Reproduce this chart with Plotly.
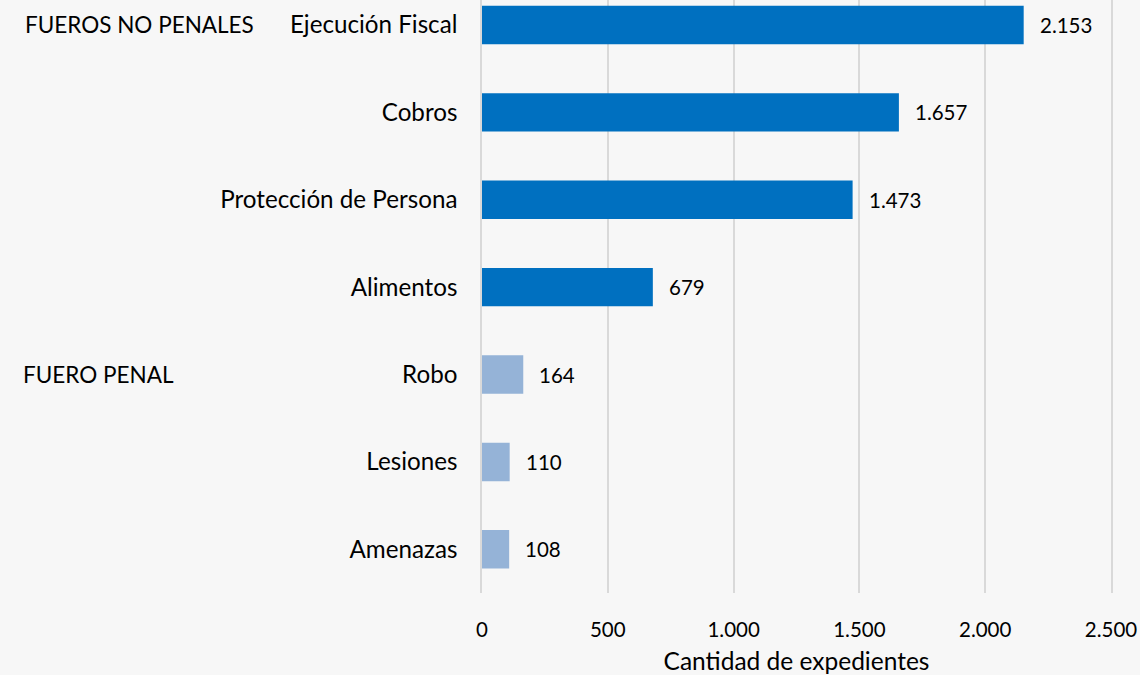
import plotly.graph_objects as go

categories = ["Ejecución Fiscal", "Cobros", "Protección de Persona", "Alimentos", "Robo", "Lesiones", "Amenazas"]
values = [2153, 1657, 1473, 679, 164, 110, 108]
groups = ["no_penal", "no_penal", "no_penal", "no_penal", "penal", "penal", "penal"]
value_labels = ["2.153", "1.657", "1.473", "679", "164", "110", "108"]
x_ticks = [0, 500, 1000, 1500, 2000, 2500]
x_tick_labels = ["0", "500", "1.000", "1.500", "2.000", "2.500"]
group_names = ["FUEROS NO PENALES", "FUERO PENAL"]
group_anchor_categories = ["Ejecución Fiscal", "Robo"]

color_map = {"no_penal": "#0070C0", "penal": "#95B3D7"}
FONT = "Lato"
GRID = "#d9d9d9"

fig = go.Figure()
fig.add_trace(go.Bar(
    x=values, y=categories, orientation="h",
    marker=dict(color=[color_map[g] for g in groups], line=dict(width=0)),
    width=0.44, hoverinfo="x+y",
))

for v, c, lbl in zip(values, categories, value_labels):
    fig.add_annotation(x=v, y=c, text=lbl, showarrow=False, xanchor="left",
                       xshift=14, font=dict(family=FONT, size=20.5, color="#000000"))

for txt, cat, shift in zip(group_names, group_anchor_categories, [-459, -461]):
    fig.add_annotation(x=0, y=cat, xref="paper", text=txt, showarrow=False,
                       xanchor="left", xshift=shift, font=dict(family=FONT, size=22.5, color="#000000"))

fig.update_layout(
    width=1140, height=675,
    margin=dict(l=482, r=29, t=0, b=82),
    paper_bgcolor="#f7f7f7", plot_bgcolor="rgba(0,0,0,0)",
    showlegend=False,
    font=dict(family=FONT, color="#000000"),
)
fig.update_xaxes(
    range=[0, 2500], tickvals=x_ticks, ticktext=x_tick_labels,
    showgrid=True, gridcolor=GRID, gridwidth=1.5, zeroline=False,
    showline=False, ticks="", ticklabelstandoff=22,
    tickfont=dict(family=FONT, size=20.5),
    title=dict(text="Cantidad de expedientes", font=dict(family=FONT, size=24.5), standoff=13),
)
fig.update_yaxes(
    categoryorder="array", categoryarray=categories,
    range=[6.5, -0.286], autorange=False,
    showgrid=False, zeroline=False,
    showline=True, mirror=True, linecolor=GRID, linewidth=1.5,
    ticks="", ticklabelstandoff=18,
    tickfont=dict(family=FONT, size=24.2),
    layer="below traces",
)

fig.write_html("out.html", post_script="document.body.style.margin='0';",
               config={"displayModeBar": False})
